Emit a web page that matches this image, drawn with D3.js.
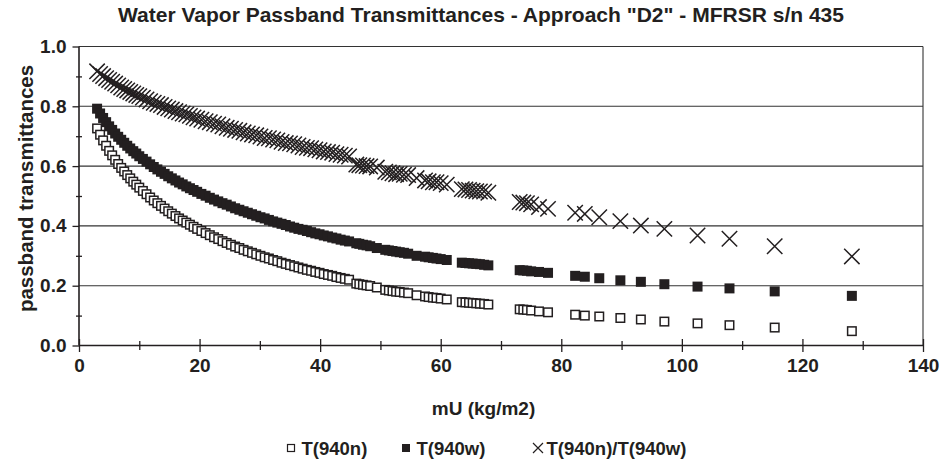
<!DOCTYPE html>
<html><head><meta charset="utf-8">
<script src="https://cdn.jsdelivr.net/npm/d3@7"></script>
<style>body{margin:0;background:#fff}svg{display:block}</style></head>
<body><svg id="c" width="946" height="461"></svg>
<script>
// ---- data ----
const mU = [3.0,3.5,4.0,4.5,5.0,5.5,6.0,6.5,7.0,7.5,8.0,8.5,9.0,9.5,10.0,10.6,11.2,11.8,12.4,13.0,13.6,14.2,14.8,15.4,16.0,16.6,17.2,17.8,18.4,19.0,19.6,20.3,21.0,21.7,22.4,23.1,23.8,24.5,25.2,25.9,26.6,27.3,28.0,28.7,29.4,30.1,30.8,31.5,32.2,32.9,33.6,34.3,35.0,35.7,36.4,37.1,37.8,38.5,39.2,39.9,40.6,41.3,42.0,42.7,43.4,44.1,44.8,
  46.0,46.5,47.1,47.7,48.3,49.4,50.8,51.4,52.0,52.6,53.2,53.9,54.6,56.0,57.4,58.0,58.7,59.3,60.0,61.0,63.5,64.1,64.7,65.3,65.9,66.5,67.2,67.9,73.1,73.7,74.3,75.0,76.3,77.8,
  82.3,83.9,86.3,89.8,93.2,97.1,102.6,107.9,115.4,128.2];
const t940n = [0.726,0.705,0.686,0.668,0.651,0.636,0.621,0.607,0.594,0.582,0.570,0.559,0.548,0.538,0.528,0.517,0.506,0.495,0.485,0.476,0.467,0.458,0.449,0.441,0.433,0.425,0.418,0.411,0.404,0.397,0.390,0.383,0.376,0.369,0.362,0.356,0.349,0.343,0.337,0.331,0.326,0.320,0.315,0.310,0.305,0.300,0.295,0.291,0.286,0.282,0.277,0.273,0.269,0.265,0.261,0.257,0.253,0.250,0.246,0.243,0.239,0.236,0.233,0.229,0.226,0.223,0.220,
  0.207,0.205,0.203,0.201,0.199,0.194,0.186,0.184,0.182,0.180,0.179,0.177,0.175,0.168,0.164,0.162,0.160,0.159,0.157,0.154,0.145,0.144,0.143,0.142,0.141,0.140,0.139,0.137,0.121,0.120,0.119,0.117,0.114,0.111,
  0.103,0.100,0.097,0.092,0.087,0.080,0.074,0.068,0.060,0.048];
const t940w = [0.792,0.776,0.761,0.747,0.733,0.721,0.709,0.698,0.688,0.678,0.668,0.659,0.650,0.642,0.633,0.624,0.615,0.606,0.597,0.589,0.581,0.574,0.566,0.559,0.552,0.545,0.539,0.532,0.526,0.520,0.514,0.507,0.501,0.494,0.488,0.482,0.476,0.471,0.465,0.459,0.454,0.449,0.444,0.439,0.434,0.429,0.425,0.420,0.415,0.411,0.407,0.403,0.398,0.394,0.390,0.387,0.383,0.379,0.375,0.372,0.368,0.365,0.361,0.358,0.354,0.351,0.348,
  0.342,0.340,0.337,0.335,0.332,0.326,0.320,0.318,0.316,0.314,0.312,0.310,0.307,0.300,0.297,0.295,0.293,0.291,0.289,0.286,0.277,0.276,0.275,0.274,0.273,0.272,0.270,0.268,0.252,0.251,0.250,0.248,0.246,0.243,
  0.233,0.230,0.225,0.218,0.213,0.205,0.197,0.191,0.181,0.166];
const ratioNW = [0.917,0.908,0.901,0.894,0.888,0.882,0.876,0.870,0.863,0.858,0.853,0.848,0.843,0.838,0.834,0.829,0.823,0.817,0.812,0.808,0.804,0.798,0.793,0.789,0.784,0.780,0.776,0.773,0.768,0.763,0.759,0.755,0.750,0.747,0.742,0.739,0.733,0.728,0.725,0.721,0.718,0.713,0.709,0.706,0.703,0.699,0.694,0.693,0.689,0.686,0.681,0.677,0.676,0.673,0.669,0.664,0.661,0.660,0.656,0.653,0.649,0.647,0.645,0.640,0.638,0.635,0.632,
  0.605,0.603,0.602,0.600,0.599,0.595,0.581,0.579,0.576,0.573,0.574,0.571,0.570,0.560,0.552,0.549,0.546,0.546,0.543,0.538,0.523,0.522,0.520,0.518,0.516,0.515,0.515,0.511,0.480,0.478,0.476,0.472,0.463,0.457,
  0.444,0.440,0.429,0.416,0.401,0.390,0.368,0.357,0.332,0.298];
const xTicks = [0,20,40,60,80,100,120,140];
const xMinorTicks = [10,30,50,70,90,110,130];
const yTicks = [0,0.2,0.4,0.6,0.8,1.0];
const yMinorTicks = [0.1,0.3,0.5,0.7,0.9];
const seriesNames = ["T(940n)","T(940w)","T(940n)/T(940w)"];
const chartTitle = 'Water Vapor Passband Transmittances - Approach "D2" - MFRSR s/n 435';
const xTitle = "mU (kg/m2)";
const yTitle = "passband transmittances";

// ---- drawing ----
const FONT = "'Liberation Sans', Arial, Helvetica, sans-serif";
const INK = "#231f20";
const svg = d3.select("#c");
svg.append("rect").attr("width",946).attr("height",461).attr("fill","#fff");
const x = d3.scaleLinear().domain([0,140]).range([79,923]);
const y = d3.scaleLinear().domain([0,1]).range([345.5,46.5]);

// gridlines
svg.append("g").selectAll("line").data(yTicks.filter(v=>v>0)).join("line")
  .attr("x1",x(0)).attr("x2",x(140)).attr("y1",d=>y(d)).attr("y2",d=>y(d))
  .attr("stroke","#333").attr("stroke-width",1.1);
// right border
svg.append("line").attr("x1",x(140)).attr("x2",x(140)).attr("y1",y(1)).attr("y2",y(0))
  .attr("stroke","#333").attr("stroke-width",1.1);

// y axis
const gy = svg.append("g").attr("transform",`translate(${x(0)},0)`)
  .call(d3.axisLeft(y).tickValues(yTicks).tickFormat(d3.format(".1f")).tickSize(6.5).tickPadding(6));
const gyMinor = svg.append("g").attr("transform",`translate(${x(0)},0)`)
  .call(d3.axisLeft(y).tickValues(yMinorTicks).tickFormat("").tickSize(3));
gyMinor.selectAll(".tick line").attr("x2",-3).attr("x1",3);
gyMinor.select(".domain").remove();
// x axis
const gx = svg.append("g").attr("transform",`translate(0,${y(0)})`)
  .call(d3.axisBottom(x).tickValues(xTicks).tickFormat(d3.format("d")).tickSize(6.5).tickPadding(6.5));
gx.selectAll(".tick line").attr("y1",-6.5);
const gxMinor = svg.append("g").attr("transform",`translate(0,${y(0)})`)
  .call(d3.axisBottom(x).tickValues(xMinorTicks).tickFormat("").tickSize(4.5));
gxMinor.selectAll(".tick line").attr("y1",-4.5);
gxMinor.select(".domain").remove();

[gy,gx,gyMinor,gxMinor].forEach(g=>{
  g.select(".domain").attr("stroke",INK).attr("stroke-width",1.6);
  g.selectAll(".tick line").attr("stroke",INK).attr("stroke-width",1.3);
  g.selectAll(".tick text").attr("fill",INK).style("font-family",FONT)
    .style("font-weight","bold").style("font-size","19px");
});
gy.select(".domain").attr("d",`M0,${y(1)}V${y(0)}`);
gx.select(".domain").attr("d",`M${x(0)},0H${x(140)}`);

// titles
svg.append("text").attr("x",481).attr("y",22).attr("text-anchor","middle")
  .attr("textLength",726).attr("lengthAdjust","spacingAndGlyphs")
  .style("font-family",FONT).style("font-weight","bold").style("font-size","20.5px")
  .attr("fill",INK).text(chartTitle);
svg.append("text").attr("x",483.5).attr("y",414.5).attr("text-anchor","middle")
  .style("font-family",FONT).style("font-weight","bold").style("font-size","19px")
  .attr("fill",INK).text(xTitle);
svg.append("text").attr("transform","translate(32.5,188.5) rotate(-90)").attr("text-anchor","middle")
  .style("font-family",FONT).style("font-weight","bold").style("font-size","20.5px")
  .attr("fill",INK).text(yTitle);

// markers
const data = mU.map((m,i)=>({m, n:t940n[i], w:t940w[i], r:ratioNW[i]}));
const pts = svg.append("g");
pts.selectAll("rect.n").data(data).join("rect").attr("class","n")
  .attr("x",d=>x(d.m)-4.25).attr("y",d=>y(d.n)-4.25).attr("width",8.5).attr("height",8.5)
  .attr("fill","#fff").attr("stroke",INK).attr("stroke-width",1.5);
pts.selectAll("rect.w").data(data).join("rect").attr("class","w")
  .attr("x",d=>x(d.m)-5).attr("y",d=>y(d.w)-5).attr("width",10).attr("height",10)
  .attr("fill",INK);
const h = 7.7;
pts.selectAll("path.r").data(data).join("path").attr("class","r")
  .attr("d",d=>{const cx=x(d.m), cy=y(d.r);
    return `M${cx-h},${cy-h}L${cx+h},${cy+h}M${cx-h},${cy+h}L${cx+h},${cy-h}`;})
  .attr("fill","none").attr("stroke",INK).attr("stroke-width",1.5);

// legend
const lg = svg.append("g");
const ly = 448;
lg.append("rect").attr("x",287.5).attr("y",ly-3.5).attr("width",7).attr("height",7)
  .attr("fill","#fff").attr("stroke",INK).attr("stroke-width",1.2);
lg.append("rect").attr("x",402).attr("y",ly-4).attr("width",8).attr("height",8).attr("fill",INK);
lg.append("path").attr("d",`M533,${ly-5}L543,${ly+5}M533,${ly+5}L543,${ly-5}`)
  .attr("stroke",INK).attr("stroke-width",1.2).attr("fill","none");
const lx = [301.5,416.5,546.5];
lg.selectAll("text").data(seriesNames).join("text")
  .attr("x",(d,i)=>lx[i]).attr("y",ly+6.5)
  .style("font-family",FONT).style("font-weight","bold").style("font-size","18.5px")
  .attr("fill",INK).text(d=>d);
</script>
</body></html>
